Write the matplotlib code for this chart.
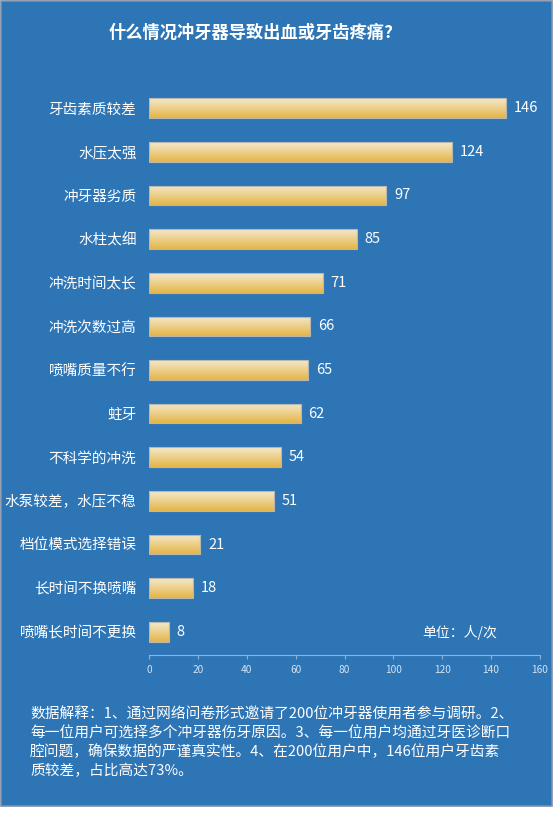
import numpy as np
import matplotlib
matplotlib.use("Agg")
from matplotlib import pyplot as plt
from matplotlib.patches import Rectangle

plt.rcParams['font.family'] = ['Noto Sans CJK SC', 'DejaVu Sans']

categories = ["牙齿素质较差", "水压太强", "冲牙器劣质", "水柱太细", "冲洗时间太长",
              "冲洗次数过高", "喷嘴质量不行", "蛀牙", "不科学的冲洗", "水泵较差，水压不稳",
              "档位模式选择错误", "长时间不换喷嘴", "喷嘴长时间不更换"]
values = [146, 124, 97, 85, 71, 66, 65, 62, 54, 51, 21, 18, 8]
xticks = [0, 20, 40, 60, 80, 100, 120, 140, 160]

title = "什么情况冲牙器导致出血或牙齿疼痛?"
unit = "单位：人/次"
note_lines = ["数据解释：1、通过网络问卷形式邀请了200位冲牙器使用者参与调研。2、",
              "每一位用户可选择多个冲牙器伤牙原因。3、每一位用户均通过牙医诊断口",
              "腔问题，确保数据的严谨真实性。4、在200位用户中，146位用户牙齿素",
              "质较差，占比高达73%。"]

bg = "#2E75B6"
W, H = 554, 815

fig = plt.figure(figsize=(W / 100, H / 100), dpi=100, facecolor="white")
# blue panel with thin gray border
fig.patches.append(Rectangle((0.5 / W, 1 - 806 / H), 551 / W, 805 / H, transform=fig.transFigure,
                             facecolor=bg, edgecolor="#7F8FA6", linewidth=1.2, zorder=-5))

ax = fig.add_axes([149 / W, 1 - 655 / H, 391 / W, 570 / H])
ax.set_zorder(2)
ax.set_facecolor("none")

y = np.arange(len(categories))
bh = 0.45
bars = ax.barh(y, values, height=bh, color="none", edgecolor="#B8B8B0", linewidth=0.8, zorder=3)

# vertical gradient fill: light cream on top, gold at bottom
grad = np.linspace(0, 1, 64).reshape(-1, 1)
cmap = matplotlib.colors.LinearSegmentedColormap.from_list("g", ["#F4E8CC", "#E4B648"])
for b, v, yi in zip(bars, values, y):
    im = ax.imshow(grad, cmap=cmap, aspect="auto", extent=(0, v, yi + bh / 2, yi - bh / 2),
                   zorder=2, interpolation="bilinear")
    im.set_clip_path(b)
    ax.text(v + 3.3, yi, str(v), va="center", ha="left", color="white", fontsize=10.5)

ax.set_ylim(len(categories) - 1 + 0.53, -0.53)
ax.set_xlim(0, 160)
ax.set_yticks(y)
ax.set_yticklabels(categories, color="white", fontsize=10.5)
ax.tick_params(axis="y", length=0, pad=9)
ax.set_xticks(xticks)
ax.tick_params(axis="x", colors="#8FB4DC", labelcolor="#D6E4F2", labelsize=7.3, length=3,
               direction="out", pad=4)
for s in ["top", "right", "left"]:
    ax.spines[s].set_visible(False)
ax.spines["bottom"].set_color("#8FB4DC")

fig.text(251 / W, 1 - 33 / H, title, ha="center", va="center", color="white",
         fontsize=12.4, fontweight="bold")
fig.text(460 / W, 1 - 632 / H, unit, ha="center", va="center", color="white", fontsize=10)

for i, line in enumerate(note_lines):
    fig.text(30 / W, 1 - (715 + i * 18.5) / H, line, ha="left", va="center", color="white", fontsize=10.6)

fig.savefig("out.png", dpi=100, facecolor=fig.get_facecolor())
